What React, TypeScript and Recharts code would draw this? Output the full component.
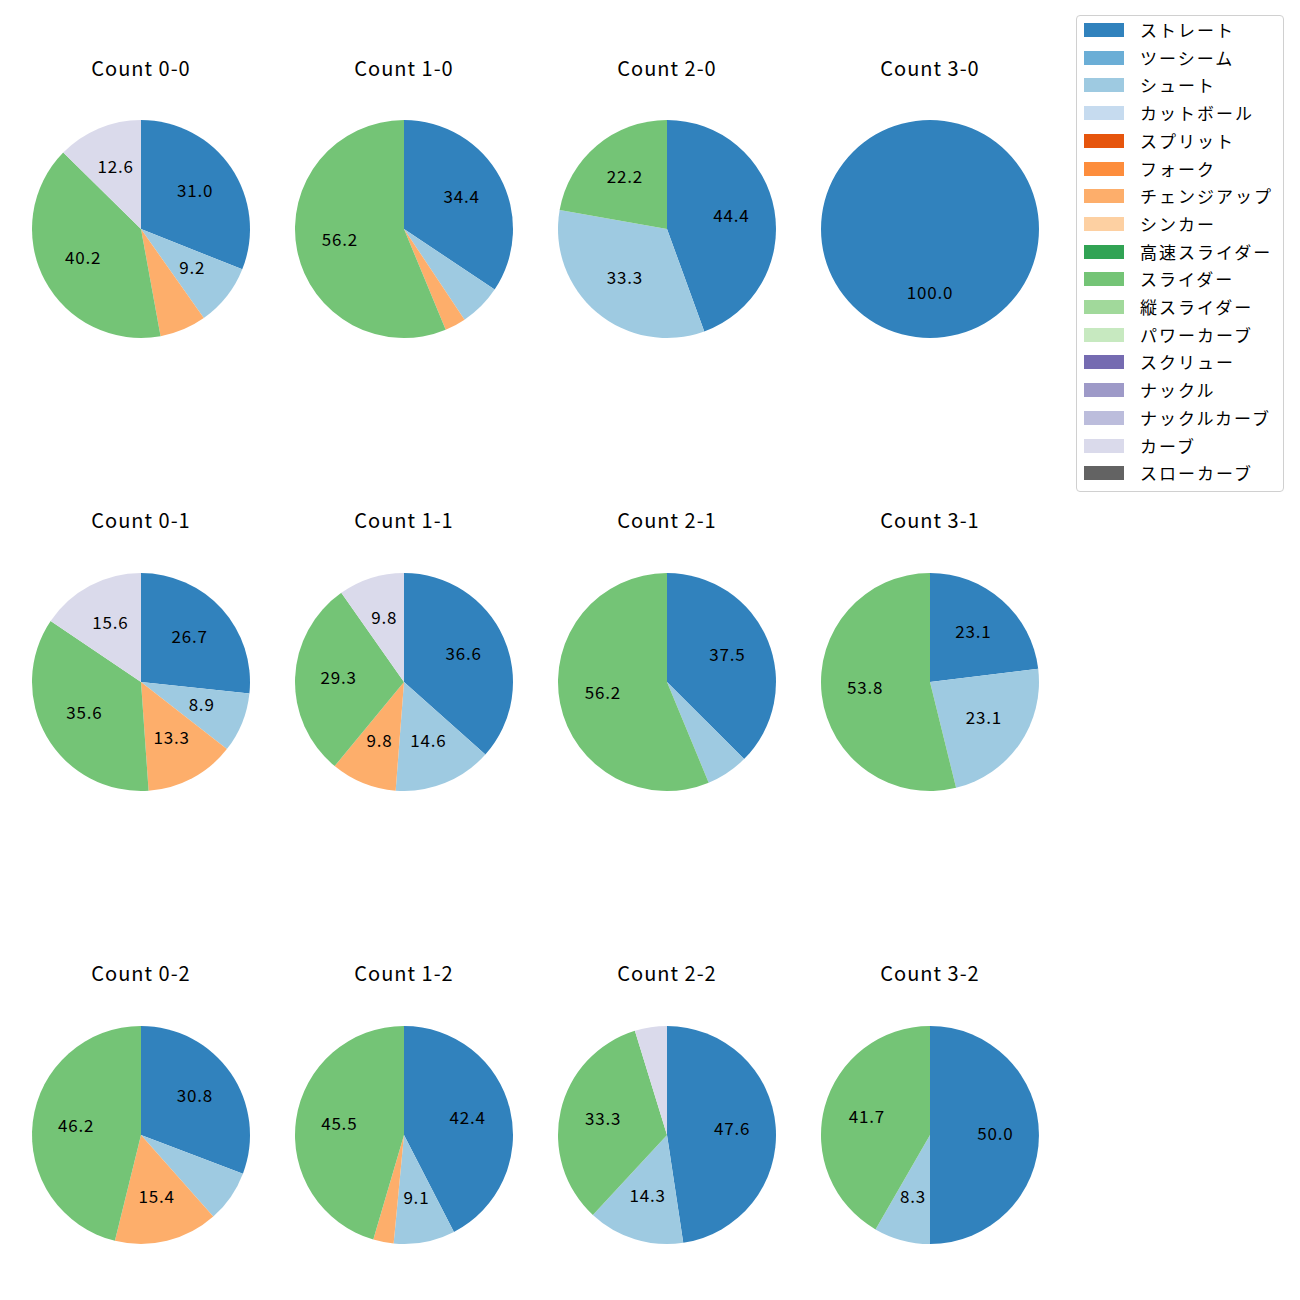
import { PieChart, Pie, Cell } from "recharts"

// pitch types and their colours (tab20c order)
const pitchTypes = [
  "ストレート", "ツーシーム", "シュート", "カットボール", "スプリット", "フォーク",
  "チェンジアップ", "シンカー", "高速スライダー", "スライダー", "縦スライダー",
  "パワーカーブ", "スクリュー", "ナックル", "ナックルカーブ", "カーブ", "スローカーブ",
]
const pitchColors = [
  "#3182bd", "#6baed6", "#9ecae1", "#c6dbef", "#e6550d", "#fd8d3c",
  "#fdae6b", "#fdd0a2", "#31a354", "#74c476", "#a1d99b",
  "#c7e9c0", "#756bb1", "#9e9ac8", "#bcbddc", "#dadaeb", "#636363",
]

const countLabels = [
  "Count 0-0", "Count 1-0", "Count 2-0", "Count 3-0",
  "Count 0-1", "Count 1-1", "Count 2-1", "Count 3-1",
  "Count 0-2", "Count 1-2", "Count 2-2", "Count 3-2",
]

// pitches per count, same order as pitchTypes
const count00 = [27, 0, 8, 0, 0, 0, 6, 0, 0, 35, 0, 0, 0, 0, 0, 11, 0]
const count10 = [11, 0, 2, 0, 0, 0, 1, 0, 0, 18, 0, 0, 0, 0, 0, 0, 0]
const count20 = [4, 0, 3, 0, 0, 0, 0, 0, 0, 2, 0, 0, 0, 0, 0, 0, 0]
const count30 = [1, 0, 0, 0, 0, 0, 0, 0, 0, 0, 0, 0, 0, 0, 0, 0, 0]
const count01 = [12, 0, 4, 0, 0, 0, 6, 0, 0, 16, 0, 0, 0, 0, 0, 7, 0]
const count11 = [15, 0, 6, 0, 0, 0, 4, 0, 0, 12, 0, 0, 0, 0, 0, 4, 0]
const count21 = [6, 0, 1, 0, 0, 0, 0, 0, 0, 9, 0, 0, 0, 0, 0, 0, 0]
const count31 = [3, 0, 3, 0, 0, 0, 0, 0, 0, 7, 0, 0, 0, 0, 0, 0, 0]
const count02 = [4, 0, 1, 0, 0, 0, 2, 0, 0, 6, 0, 0, 0, 0, 0, 0, 0]
const count12 = [14, 0, 3, 0, 0, 0, 1, 0, 0, 15, 0, 0, 0, 0, 0, 0, 0]
const count22 = [10, 0, 3, 0, 0, 0, 0, 0, 0, 7, 0, 0, 0, 0, 0, 1, 0]
const count32 = [6, 0, 1, 0, 0, 0, 0, 0, 0, 5, 0, 0, 0, 0, 0, 0, 0]

const allCounts = [
  count00, count10, count20, count30,
  count01, count11, count21, count31,
  count02, count12, count22, count32,
]

const FONT = "'Noto Sans CJK JP', 'Noto Sans', sans-serif"
const colX = [141, 404, 667, 930]
const rowY = [229, 682, 1135]
const titleY = [69, 521, 974]
const R = 109
const BOX = 240

const RAD = Math.PI / 180

// one decimal, ties to even like python's format
const fmt1 = (p: number) => {
  const v = p * 10
  const f = Math.floor(v)
  let n = Math.round(v)
  if (Math.abs(v - f - 0.5) < 1e-9) n = f % 2 === 0 ? f : f + 1
  return (n / 10).toFixed(1)
}

const renderLabel = (props: any) => {
  const { cx, cy, midAngle, outerRadius, percent } = props
  const p = percent * 100
  if (p < 8) return null
  const r = outerRadius * 0.6
  const x = cx + r * Math.cos(-midAngle * RAD)
  const y = cy + r * Math.sin(-midAngle * RAD) - 3
  return (
    <text x={x} y={y} fill="#000" textAnchor="middle" dominantBaseline="central"
      fontSize={17} letterSpacing={0.8} fontFamily={FONT}>
      {fmt1(p)}
    </text>
  )
}

function CountPie({ idx }: { idx: number }) {
  const values = allCounts[idx]
  const data = pitchTypes
    .map((name, i) => ({ name, value: values[i], color: pitchColors[i] }))
    .filter((d) => d.value > 0)
  const cx = colX[idx % 4]
  const cy = rowY[Math.floor(idx / 4)]
  return (
    <>
      <div style={{
        position: "absolute", left: cx - 100, width: 200, top: titleY[Math.floor(idx / 4)] - 15,
        height: 28, lineHeight: "28px", textAlign: "center", fontSize: 20, letterSpacing: 1,
        fontFamily: FONT, color: "#000",
      }}>
        {countLabels[idx]}
      </div>
      <div style={{ position: "absolute", left: cx - BOX / 2, top: cy - BOX / 2 }}>
        <PieChart width={BOX} height={BOX} margin={{ top: 0, right: 0, bottom: 0, left: 0 }}>
          <Pie
            data={data}
            dataKey="value"
            nameKey="name"
            cx={BOX / 2}
            cy={BOX / 2}
            outerRadius={R}
            startAngle={90}
            endAngle={-270}
            stroke="none"
            label={renderLabel}
            labelLine={false}
            isAnimationActive={false}
          >
            {data.map((d) => (
              <Cell key={d.name} fill={d.color} />
            ))}
          </Pie>
        </PieChart>
      </div>
    </>
  )
}

function LegendBox() {
  return (
    <div style={{
      position: "absolute", left: 1076, top: 15, width: 208, height: 477, boxSizing: "border-box",
      border: "1px solid #d0d0d0", borderRadius: 4, background: "#fff", fontFamily: FONT,
    }}>
      {pitchTypes.map((name, i) => (
        <div key={name} style={{ position: "absolute", left: 0, top: 6 + i * 27.7, height: 16, width: 206 }}>
          <div style={{ position: "absolute", left: 7, top: 1, width: 40, height: 14, background: pitchColors[i] }} />
          <div style={{
            position: "absolute", left: 63, top: -3, fontSize: 17, letterSpacing: 2,
            lineHeight: "22px", color: "#000", whiteSpace: "nowrap",
          }}>
            {name}
          </div>
        </div>
      ))}
    </div>
  )
}

export default function App() {
  return (
    <div style={{ position: "absolute", left: 0, top: 0, width: 1300, height: 1300, background: "#fff" }}>
      {allCounts.map((_, i) => (
        <CountPie key={i} idx={i} />
      ))}
      <LegendBox />
    </div>
  )
}
